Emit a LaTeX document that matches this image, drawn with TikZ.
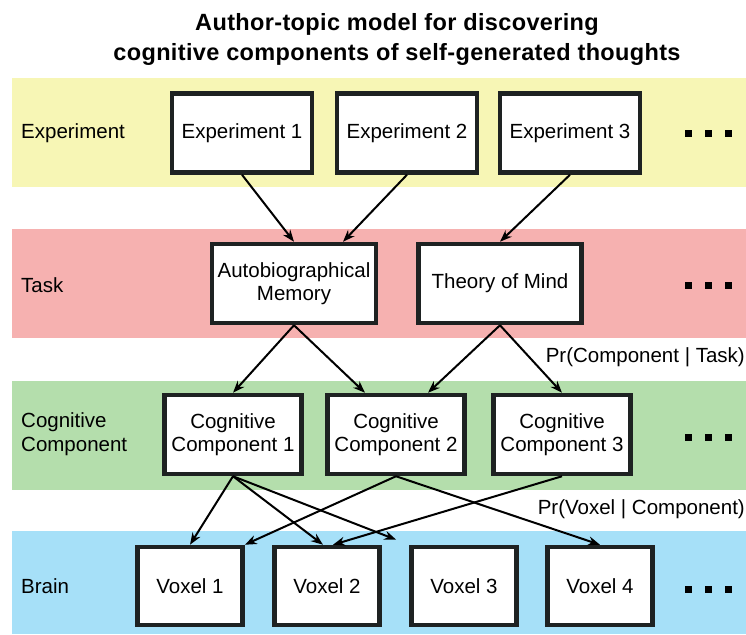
\documentclass[tikz,border=0pt]{standalone}
\usepackage{fontspec}
\setmainfont{Liberation Sans}
\usetikzlibrary{arrows.meta}

\definecolor{expYellow}{RGB}{247,246,181}
\definecolor{taskRed}{RGB}{246,177,176}
\definecolor{compGreen}{RGB}{180,222,172}
\definecolor{brainBlue}{RGB}{166,224,248}
\definecolor{boxBorder}{RGB}{30,34,34}

\begin{document}
\begin{tikzpicture}[x=1pt, y=-1pt,
    box/.style={rectangle, draw=boxBorder, line width=4.5pt, fill=white, align=center, inner sep=0pt, font=\fontsize{20.5}{23.5}\selectfont},
    arrow/.style={-{Stealth[length=12pt, width=9pt]}, line width=2pt},
    rowlabel/.style={anchor=west, align=left, inner sep=0pt, font=\fontsize{20.5}{23.5}\selectfont},
    problabel/.style={anchor=east, inner sep=0pt, font=\fontsize{20.5}{23.5}\selectfont}]
% Constants
\def\bandLeft{12} % Left edge of the coloured bands
\def\bandRight{746} % Right edge of the coloured bands
\def\labelX{21} % Left edge of the row labels
\def\dotsX{688} % Centre of the first dot
\def\dotSpacing{20} % Horizontal spacing between the dots
\def\dotSize{7} % Side of a dot

\useasboundingbox (0,0) rectangle (746,634);

% Title
\node[font=\bfseries\fontsize{23.5}{30}\selectfont\addfontfeature{LetterSpace=1.5}, align=center] (title) at (397,39) {Author-topic model for discovering\\cognitive components of self-generated thoughts};

% Coloured bands (top/bottom/colour)
\foreach \top/\bottom/\colour in {78/187/expYellow, 229/338/taskRed, 381/490/compGreen, 531/634/brainBlue} {
    \fill[\colour] (\bandLeft,\top) rectangle (\bandRight,\bottom);
}

% Row labels on the left
\node[rowlabel] (label-exp) at (\labelX,133) {Experiment};
\node[rowlabel] (label-task) at (\labelX,285) {Task};
\node[rowlabel] (label-comp) at (\labelX,434) {Cognitive\\Component};
\node[rowlabel] (label-brain) at (\labelX,586) {Brain};

% Experiments
\foreach \i/\x in {1/242, 2/407, 3/570} {
    \node[box, minimum width=140pt, minimum height=79pt] (exp-\i) at (\x,133) {Experiment \i};
}

% Tasks
\node[box, minimum width=164pt, minimum height=79pt] (task-1) at (294,283.5) {Autobiographical\\Memory};
\node[box, minimum width=163pt, minimum height=79pt] (task-2) at (500,283.5) {Theory of Mind};

% Cognitive components
\foreach \i/\x in {1/233, 2/396, 3/562} {
    \node[box, minimum width=137pt, minimum height=79pt] (comp-\i) at (\x,434.5) {Cognitive\\Component \i};
}

% Voxels
\foreach \i/\x in {1/190, 2/327, 3/464, 4/600} {
    \node[box, minimum width=105pt, minimum height=78pt] (voxel-\i) at (\x,586) {Voxel \i};
}

% Dots at the end of each row
\foreach \y in {133, 285, 437, 589} {
    \foreach \k in {0,1,2} {
        \pgfmathsetmacro\x{\dotsX + \k*\dotSpacing - \dotSize/2}
        \fill (\x,{\y-\dotSize/2}) rectangle +(\dotSize,\dotSize);
    }
}

% Experiment -> task
\draw[arrow] (exp-1.south) -- (task-1.north);
\draw[arrow] (exp-2.south) -- ([xshift=49pt]task-1.north);
\draw[arrow] (exp-3.south) -- (task-2.north);

% Task -> component
\draw[arrow] (task-1.south) -- (comp-1.north);
\draw[arrow] (task-1.south) -- ([xshift=-31pt]comp-2.north);
\draw[arrow] (task-2.south) -- ([xshift=32pt]comp-2.north);
\draw[arrow] (task-2.south) -- (comp-3.north);
\node[problabel] (prob-comp) at (745,357) {Pr(Component | Task)};

% Component -> voxel
\draw[arrow] (comp-1.south) -- (voxel-1.north);
\draw[arrow] (comp-1.south) -- ([xshift=-4pt]voxel-2.north);
\draw[arrow] (comp-1.south) -- ([xshift=-13pt, yshift=5pt]voxel-3.north west);
\draw[arrow] (comp-2.south) -- (voxel-1.north east);
\draw[arrow] (comp-2.south) -- (voxel-4.north);
\draw[arrow] (comp-3.south) -- ([xshift=6pt]voxel-2.north);
\node[problabel] (prob-voxel) at (745,509) {Pr(Voxel | Component)};

\end{tikzpicture}
\end{document}
